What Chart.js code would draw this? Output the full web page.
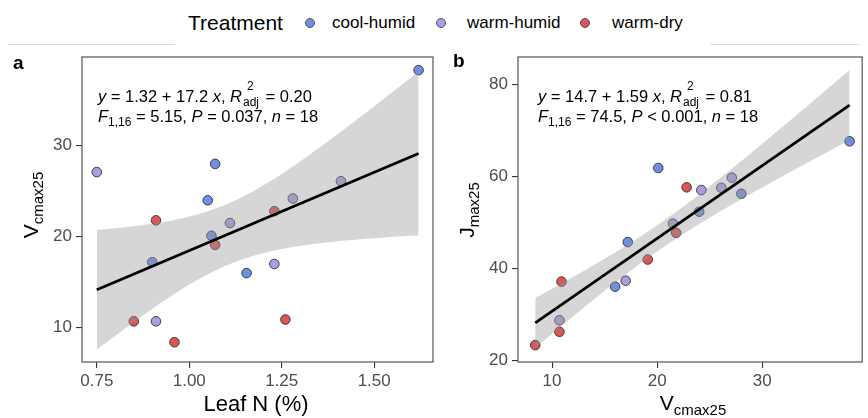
<!DOCTYPE html>
<html>
<head>
<meta charset="utf-8">
<script src="https://cdn.jsdelivr.net/npm/chart.js@4.4.1/dist/chart.umd.min.js"></script>
<style>
  body { margin: 0; width: 868px; height: 418px; position: relative; background: #fff; overflow: hidden;
         font-family: "Liberation Sans", Arial, sans-serif; color: #000; }
  .abs { position: absolute; white-space: nowrap; }
  canvas { position: absolute; }
  .rule { position: absolute; left: 8px; top: 44px; width: 852px; height: 1px; background: #dcdcdc; }
  .legend { position: absolute; left: 175px; top: 0; width: 535px; height: 45px; background: #fff; }
  .legend span { position: absolute; top: 50%; transform: translateY(-50%); }
  .dot { width: 8px; height: 8px; border-radius: 50%; border: 1px solid #555; margin-left: -5px; }
  .ann { font-size: 16.5px; line-height: 20px; }
  .ss { display: inline-block; position: relative; width: 19px; height: 1em; }
  .ss .hi { position: absolute; left: 5px; top: -9px; font-size: 12px; }
  .ss .lo { position: absolute; left: 1px; top: 7px; font-size: 12px; }
  .sub { font-size: 12px; vertical-align: -4px; }
  .ttl { font-size: 21px; }
  .ttl sub { font-size: 15px; vertical-align: -5px; }
</style>
</head>
<body>
<div class="rule"></div>
<div class="legend">
  <span style="left:13px;font-size:21px">Treatment</span>
  <span class="dot" style="left:135px;background:#6f8fe4"></span>
  <span style="left:157px;font-size:17px">cool-humid</span>
  <span class="dot" style="left:266px;background:#ae9ce0"></span>
  <span style="left:292px;font-size:17px">warm-humid</span>
  <span class="dot" style="left:410px;background:#d95757"></span>
  <span style="left:437px;font-size:17px">warm-dry</span>
</div>

<canvas id="chartA" width="440" height="378" style="left:0;top:40px"></canvas>
<canvas id="chartB" width="428" height="378" style="left:440px;top:40px"></canvas>

<div class="abs" style="left:13px;top:52px;font-size:19px;font-weight:bold">a</div>
<div class="abs" style="left:453px;top:50px;font-size:19px;font-weight:bold">b</div>

<div class="abs ann" style="left:98px;top:85px"><i>y</i> = 1.32 + 17.2 <i>x</i>, <i>R</i><span class="ss"><span class="hi">2</span><span class="lo">adj</span></span> = 0.20</div>
<div class="abs ann" style="left:98px;top:106px"><i>F</i><span class="sub">1,16</span> = 5.15, <i>P</i> = 0.037, <i>n</i> = 18</div>
<div class="abs ann" style="left:538px;top:85px"><i>y</i> = 14.7 + 1.59 <i>x</i>, <i>R</i><span class="ss"><span class="hi">2</span><span class="lo">adj</span></span> = 0.81</div>
<div class="abs ann" style="left:538px;top:106px"><i>F</i><span class="sub">1,16</span> = 74.5, <i>P</i> &lt; 0.001, <i>n</i> = 18</div>

<div class="abs ttl" style="left:32px;top:205px;transform:translate(-50%,-50%) rotate(-90deg)">V<sub>cmax25</sub></div>
<div class="abs ttl" style="left:256px;top:404px;font-size:22px;transform:translate(-50%,-50%)">Leaf N (%)</div>
<div class="abs ttl" style="left:468px;top:210px;transform:translate(-50%,-50%) rotate(-90deg)">J<sub>max25</sub></div>
<div class="abs ttl" style="left:693px;top:404px;transform:translate(-50%,-50%)">V<sub>cmax25</sub></div>

<script>
const treatmentNames = ["cool-humid", "warm-humid", "warm-dry"];
const treatmentColors = ["#6f8fe4", "#ae9ce0", "#d95757"];

// one value per plot, same order across the three measurements
const coolHumidLeafN = [1.62, 1.07, 1.05, 1.06, 0.90, 1.155];
const coolHumidVcmax = [38.3, 28.0, 24.0, 20.1, 17.2, 16.0];
const coolHumidJmax  = [67.6, 56.2, 52.3, 61.8, 45.7, 36.0];
const warmHumidLeafN = [0.75, 1.11, 1.23, 1.28, 1.41, 0.91];
const warmHumidVcmax = [27.1, 21.5, 17.0, 24.2, 26.1, 10.7];
const warmHumidJmax  = [59.7, 49.7, 37.3, 57.0, 57.5, 28.7];
const warmDryLeafN = [0.91, 1.07, 1.23, 1.26, 0.85, 0.96];
const warmDryVcmax = [21.8, 19.1, 22.8, 10.9, 10.7, 8.4];
const warmDryJmax  = [47.7, 41.9, 57.6, 37.1, 26.2, 23.3];

const xTicksA = [0.75, 1.00, 1.25, 1.50];
const xTickLabelsA = ["0.75", "1.00", "1.25", "1.50"];
const yTicksA = [10, 20, 30];
const xTicksB = [10, 20, 30];
const yTicksB = [20, 40, 60, 80];

const FONT = '"Liberation Sans", Arial, sans-serif';
Chart.defaults.font.family = FONT;

const tCrit = 2.12; // t(0.975, df = 16)

// ordinary least squares + 95% confidence band for the mean
function fitBand(xs, ys, steps) {
  const n = xs.length;
  const mx = xs.reduce((s, v) => s + v, 0) / n;
  const my = ys.reduce((s, v) => s + v, 0) / n;
  let sxx = 0, sxy = 0;
  for (let i = 0; i < n; i++) {
    sxx += (xs[i] - mx) ** 2;
    sxy += (xs[i] - mx) * (ys[i] - my);
  }
  const b = sxy / sxx, a = my - b * mx;
  let sse = 0;
  for (let i = 0; i < n; i++) sse += (ys[i] - a - b * xs[i]) ** 2;
  const s = Math.sqrt(sse / (n - 2));
  const lo = Math.min(...xs), hi = Math.max(...xs);
  const upper = [], lower = [];
  for (let i = 0; i <= steps; i++) {
    const x = lo + (hi - lo) * i / steps;
    const yh = a + b * x;
    const se = s * Math.sqrt(1 / n + (x - mx) ** 2 / sxx);
    upper.push({ x: x, y: yh + tCrit * se });
    lower.push({ x: x, y: yh - tCrit * se });
  }
  return { line: [{ x: lo, y: a + b * lo }, { x: hi, y: a + b * hi }], upper, lower };
}

function pts(xs, ys) {
  return xs.map((x, i) => ({ x: x, y: ys[i] }));
}

const frame = {
  id: "frame",
  afterDraw(chart) {
    const { ctx, chartArea: a } = chart;
    ctx.save();
    ctx.strokeStyle = "#555";
    ctx.lineWidth = 1.2;
    ctx.strokeRect(a.left, a.top, a.right - a.left, a.bottom - a.top);
    ctx.restore();
  }
};

function makePanel(id, groupsX, groupsY, cfg) {
  const allX = [].concat(...groupsX), allY = [].concat(...groupsY);
  const fit = fitBand(allX, allY, 80);
  const datasets = [
    { type: "line", data: fit.line, borderColor: "#000", borderWidth: 2.8, pointRadius: 0, order: 0 },
    { type: "line", data: fit.upper, borderWidth: 0, pointRadius: 0, fill: "+1",
      backgroundColor: "rgba(153,153,153,0.4)", order: 1 },
    { type: "line", data: fit.lower, borderWidth: 0, pointRadius: 0, fill: false, order: 2 }
  ];
  treatmentNames.forEach((name, g) => {
    datasets.push({
      label: name, data: pts(groupsX[g], groupsY[g]),
      backgroundColor: treatmentColors[g], borderColor: "rgba(50,50,50,0.9)",
      borderWidth: 1, pointRadius: 4.8, order: 3
    });
  });
  const axis = (min, max, ticks, labels, isY) => ({
    type: "linear", min: min, max: max,
    afterBuildTicks: s => { s.ticks = ticks.map(v => ({ value: v })); },
    afterFit: s => { if (isY) s.width = cfg.yWidth; else s.height = 56; },
    grid: { drawOnChartArea: false, drawTicks: true, tickLength: 6, color: "#333", lineWidth: 1.1 },
    border: { display: false },
    ticks: {
      color: "#4d4d4d", font: { size: 17, family: FONT }, padding: isY ? 4 : 3,
      callback: (v, i) => labels ? labels[i] : String(v)
    }
  });
  return new Chart(document.getElementById(id), {
    type: "scatter",
    data: { datasets: datasets },
    options: {
      responsive: false, animation: false, devicePixelRatio: 1,
      layout: { padding: { left: 0, top: 17, right: cfg.right, bottom: 0 } },
      plugins: { legend: { display: false }, tooltip: { enabled: false } },
      scales: {
        x: axis(cfg.xMin, cfg.xMax, cfg.xTicks, cfg.xLabels, false),
        y: axis(cfg.yMin, cfg.yMax, cfg.yTicks, null, true)
      }
    },
    plugins: [frame]
  });
}

makePanel("chartA",
  [coolHumidLeafN, warmHumidLeafN, warmDryLeafN],
  [coolHumidVcmax, warmHumidVcmax, warmDryVcmax],
  { xMin: 0.71, xMax: 1.659, yMin: 6.23, yMax: 39.75, xTicks: xTicksA, xLabels: xTickLabelsA,
    yTicks: yTicksA, yWidth: 82, right: 7 });

makePanel("chartB",
  [coolHumidVcmax, warmHumidVcmax, warmDryVcmax],
  [coolHumidJmax, warmHumidJmax, warmDryJmax],
  { xMin: 6.76, xMax: 39.5, yMin: 19.63, yMax: 85.93, xTicks: xTicksB, xLabels: null,
    yTicks: yTicksB, yWidth: 78, right: 2.5 });
</script>
</body>
</html>
